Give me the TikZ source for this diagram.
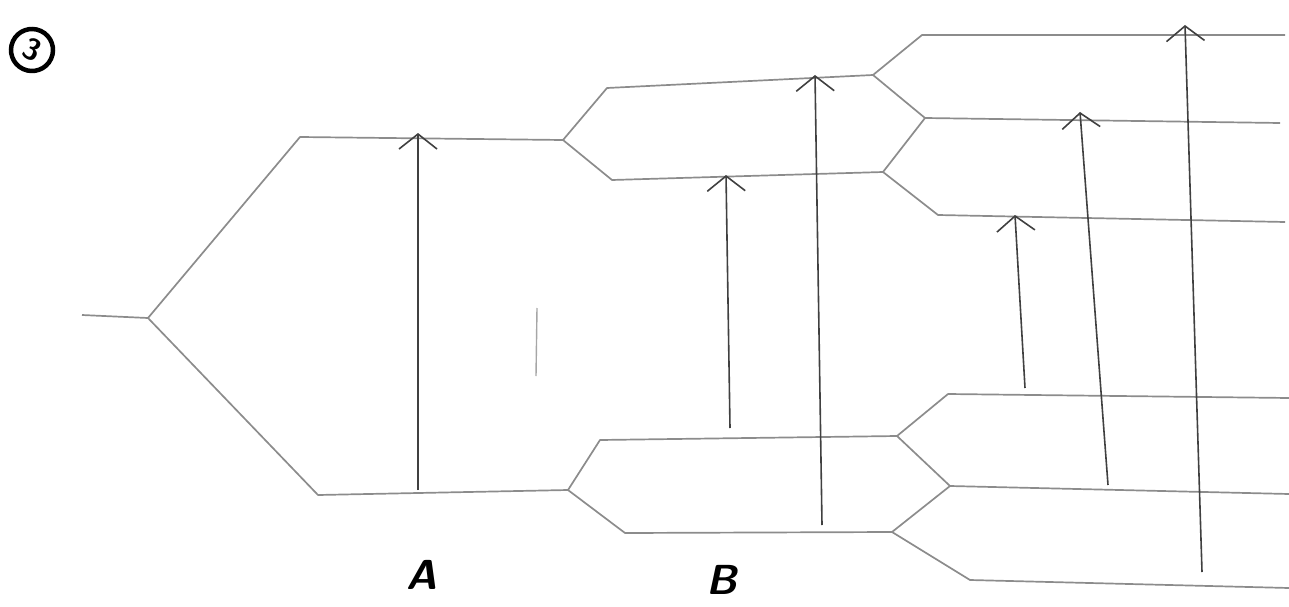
\documentclass[tikz,border=0pt]{standalone}
\usetikzlibrary{arrows.meta}
\begin{document}
\begin{tikzpicture}[x=1pt,y=-1pt,
  branch/.style={draw=black!45,line width=1.7pt,line join=round},
  uparrow/.style={draw=black!75,line width=1.6pt,-{Straight Barb[length=15pt,width=38pt,line width=1.6pt]}},
  lbl/.style={font=\fontsize{40}{46}\selectfont\sffamily\itshape}]
\useasboundingbox (0,0) rectangle (1289,607);
% tree points
\coordinate (r0) at (82,315);   \coordinate (r) at (148,318);
\coordinate (a1) at (300,137);  \coordinate (a2) at (563,140);
\coordinate (b1) at (318,495);  \coordinate (b2) at (568,490);
\coordinate (c1) at (607,88);   \coordinate (c2) at (873,75);
\coordinate (d1) at (612,180);  \coordinate (d2) at (883,172);
\coordinate (e1) at (922,35);   \coordinate (e2) at (1285,35);
\coordinate (f1) at (925,118);  \coordinate (f2) at (1280,123);
\coordinate (g1) at (938,215);  \coordinate (g2) at (1285,222);
\coordinate (h1) at (600,440);  \coordinate (h2) at (897,436);
\coordinate (i1) at (625,533);  \coordinate (i2) at (892,532);
\coordinate (j1) at (948,394);  \coordinate (j2) at (1289,398);
\coordinate (k1) at (950,486);  \coordinate (k2) at (1289,494);
\coordinate (l1) at (970,580);  \coordinate (l2) at (1289,588);
% branches
\draw[branch] (r0) -- (r);
\draw[branch] (r) -- (a1) -- (a2);
\draw[branch] (r) -- (b1) -- (b2);
\draw[branch] (a2) -- (c1) -- (c2);
\draw[branch] (a2) -- (d1) -- (d2);
\draw[branch] (c2) -- (e1) -- (e2);
\draw[branch] (c2) -- (f1) -- (f2);
\draw[branch] (d2) -- (f1);
\draw[branch] (d2) -- (g1) -- (g2);
\draw[branch] (b2) -- (h1) -- (h2);
\draw[branch] (b2) -- (i1) -- (i2);
\draw[branch] (h2) -- (j1) -- (j2);
\draw[branch] (h2) -- (k1) -- (k2);
\draw[branch] (i2) -- (k1);
\draw[branch] (i2) -- (l1) -- (l2);
% arrows
\coordinate (p1s) at (418,490);  \coordinate (p1e) at (418,133);
\coordinate (p2s) at (730,428);  \coordinate (p2e) at (726,175);
\coordinate (p3s) at (822,525);  \coordinate (p3e) at (815,75);
\coordinate (p4s) at (1025,388); \coordinate (p4e) at (1015,215);
\coordinate (p5s) at (1108,485); \coordinate (p5e) at (1080,112);
\coordinate (p6s) at (1202,572); \coordinate (p6e) at (1185,25);
\draw[uparrow] (p1s) -- (p1e);
\draw[uparrow] (p2s) -- (p2e);
\draw[uparrow] (p3s) -- (p3e);
\draw[uparrow] (p4s) -- (p4e);
\draw[uparrow] (p5s) -- (p5e);
\draw[uparrow] (p6s) -- (p6e);
% stray pencil stroke
\coordinate (s1) at (537,308); \coordinate (s2) at (536,376);
\draw[draw=black!35,line width=1.4pt] (s1) -- (s2);
% labels
\node[lbl,font=\fontsize{42}{48}\selectfont\sffamily\itshape\bfseries] (la) at (422,575) {A};
\node[lbl,font=\fontsize{42}{48}\selectfont\sffamily\itshape\bfseries] (lb) at (722,580) {B};
\node[circle,draw=black,line width=4.5pt,minimum size=42pt,inner sep=0pt,
      font=\fontsize{30}{32}\selectfont\sffamily\bfseries,rotate=-25] (num) at (32,50) {3};
\end{tikzpicture}
\end{document}
